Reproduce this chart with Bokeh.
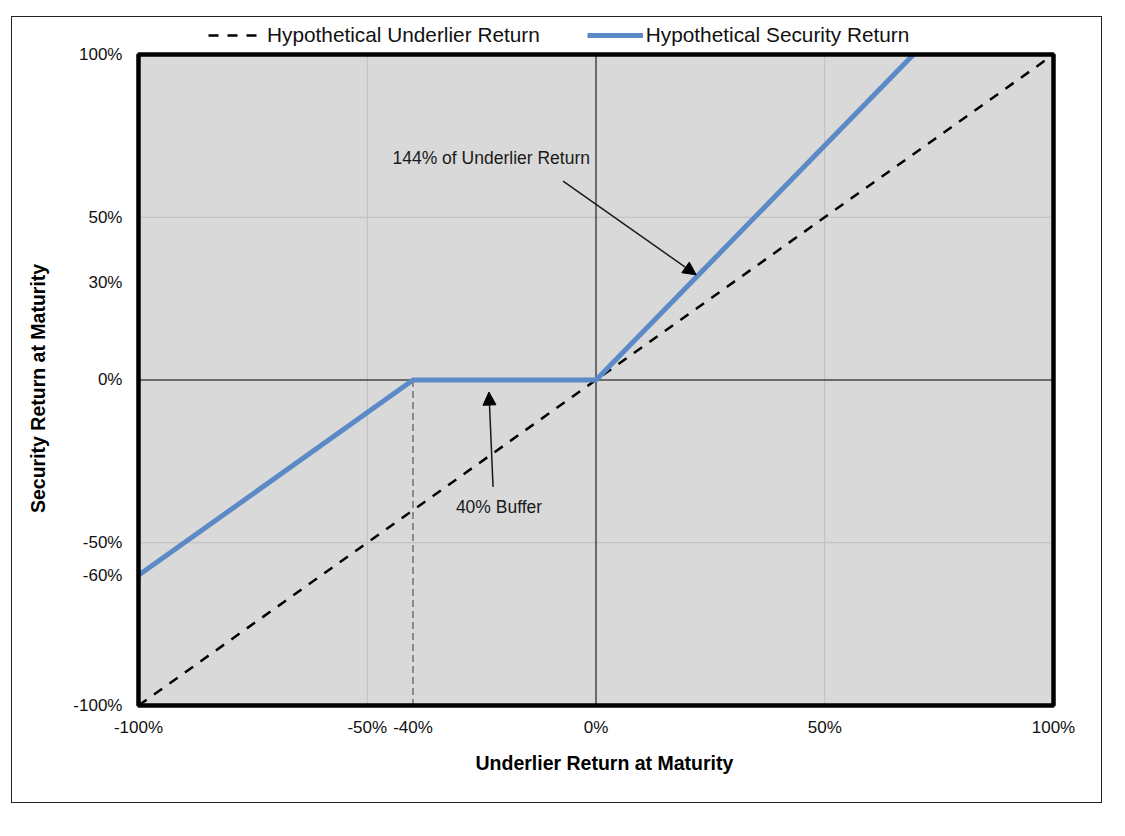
import math
from bokeh.plotting import figure
from bokeh.models import (Range1d, FixedTicker, Label, Arrow, NormalHead,
                          Legend, LegendItem, Title)
from bokeh.core.properties import value
from bokeh.embed import file_html
from bokeh.resources import INLINE

# ---- data ----
underlier_x = [-100, 100]
underlier_y = [-100, 100]
security_x = [-100, -40, 0, 69.4]
security_y = [-60, 0, 0, 100]
buffer_level = -40
x_ticks = [-100, -50, -40, 0, 50, 100]
y_ticks = [-100, -60, -50, 0, 30, 50, 100]
y_tick_labels = [f"{t}%" for t in y_ticks]
grid_vals = [-50, 50]
label_text = ["144% of Underlier Return", "40% Buffer"]
label_x = [-22.9, -21.2]
label_y = [68.2, -39.0]
arrow_start_x = [-7.2, -22.5]
arrow_start_y = [61.1, -32.9]
arrow_end_x = [21.9, -23.4]
arrow_end_y = [32.3, -3.7]

FONT = "Liberation Sans"
x_lo, x_hi = x_ticks[0], x_ticks[-1]
y_lo, y_hi = y_ticks[0], y_ticks[-1]

# the frame extends left of / above / slightly below the plot box to host the y labels and the legend
p = figure(width=1091, height=787, x_range=Range1d(x_lo - 27.54, x_hi), y_range=Range1d(y_lo - 3.69, 111.37),
           output_backend="svg", toolbar_location=None,
           min_border_left=0, min_border_right=50, min_border_top=0, min_border_bottom=87)
p.styles = {"margin-left": "11px", "margin-top": "16px", "border": "1.5px solid #222"}

p.background_fill_color = "white"
p.border_fill_color = "white"
p.outline_line_color = None
p.grid.visible = False
p.yaxis.visible = False

# plot box background
p.quad(left=[x_lo], right=[x_hi], bottom=[y_lo], top=[y_hi], fill_color="#d9d9d9",
       line_color=None, level="image")
# grid lines
p.segment(x0=grid_vals, y0=[y_lo] * len(grid_vals), x1=grid_vals, y1=[y_hi] * len(grid_vals),
          line_color="#bdbdbd", line_width=1, level="underlay")
p.segment(x0=[x_lo] * len(grid_vals), y0=grid_vals, x1=[x_hi] * len(grid_vals), y1=grid_vals,
          line_color="#bdbdbd", line_width=1, level="underlay")
# zero lines
p.segment(x0=[0, x_lo], y0=[y_lo, 0], x1=[0, x_hi], y1=[y_hi, 0],
          line_color="black", line_width=1, level="underlay")

# x axis
ax = p.xaxis
ax.ticker = FixedTicker(ticks=x_ticks)
ax.major_label_overrides = {t: f"{t}%" for t in x_ticks}
ax.axis_line_color = None
ax.major_tick_line_color = None
ax.minor_tick_line_color = None
ax.major_tick_in = 0
ax.major_tick_out = 0
ax.major_label_text_font = FONT
ax.major_label_text_font_size = "17px"
ax.major_label_text_color = "#111111"
ax.major_label_standoff = 0

# y tick labels (right-aligned just left of the plot box)
p.text(x=[x_lo - 3.5] * len(y_ticks), y=y_ticks, text=y_tick_labels, text_align="right",
       text_baseline="middle", text_font=value(FONT), text_font_size=value("17px"),
       text_color="#111111")

# axis titles
p.add_layout(Title(text="Underlier Return at Maturity", align="left", offset=463, standoff=20,
                   text_font=FONT, text_font_size="19.5px", text_font_style="bold",
                   text_color="black"), "below")
p.add_layout(Label(x=x_lo - 21.86, y=-2.6, text="Security Return at Maturity", angle=math.pi / 2,
                   text_align="center", text_baseline="middle", text_font=FONT,
                   text_font_size="19.5px", text_font_style="bold", text_color="black"))

# buffer dashed line
p.segment(x0=[buffer_level], y0=[0], x1=[buffer_level], y1=[y_lo],
          line_color="#8a8a8a", line_width=2, line_dash="7 4")

r_u = p.line(underlier_x, underlier_y, line_color="black", line_width=2.5, line_dash="10 9")
r_s = p.line(security_x, security_y, line_color="#5B8AC6", line_width=5)

# plot box border
p.quad(left=[x_lo], right=[x_hi], bottom=[y_lo], top=[y_hi], fill_color=None,
       line_color="black", line_width=4.5, level="overlay")

# annotations
for t, lx, ly in zip(label_text, label_x, label_y):
    p.add_layout(Label(x=lx, y=ly, text=t, text_align="center", text_baseline="middle",
                       text_font=FONT, text_font_size="17.5px", text_color="#1a1a1a"))
for sx, sy, ex, ey in zip(arrow_start_x, arrow_start_y, arrow_end_x, arrow_end_y):
    p.add_layout(Arrow(x_start=sx, y_start=sy, x_end=ex, y_end=ey, line_color="#1a1a1a", line_width=1.5,
                       end=NormalHead(size=13, fill_color="black", line_color="black")))

legend = Legend(items=[LegendItem(label="Hypothetical Underlier Return", renderers=[r_u]),
                       LegendItem(label="Hypothetical Security Return", renderers=[r_s])],
                location=(196, 670), orientation="horizontal")
legend.label_text_font = FONT
legend.label_text_font_size = "20.8px"
legend.label_text_color = "#111111"
legend.glyph_width = 56
legend.glyph_height = 20
legend.label_height = 20
legend.label_standoff = 3
legend.spacing = 47
legend.padding = 0
legend.margin = 0
legend.border_line_color = None
legend.background_fill_alpha = 0
p.add_layout(legend)

open("out.html", "w").write(file_html(p, INLINE))
